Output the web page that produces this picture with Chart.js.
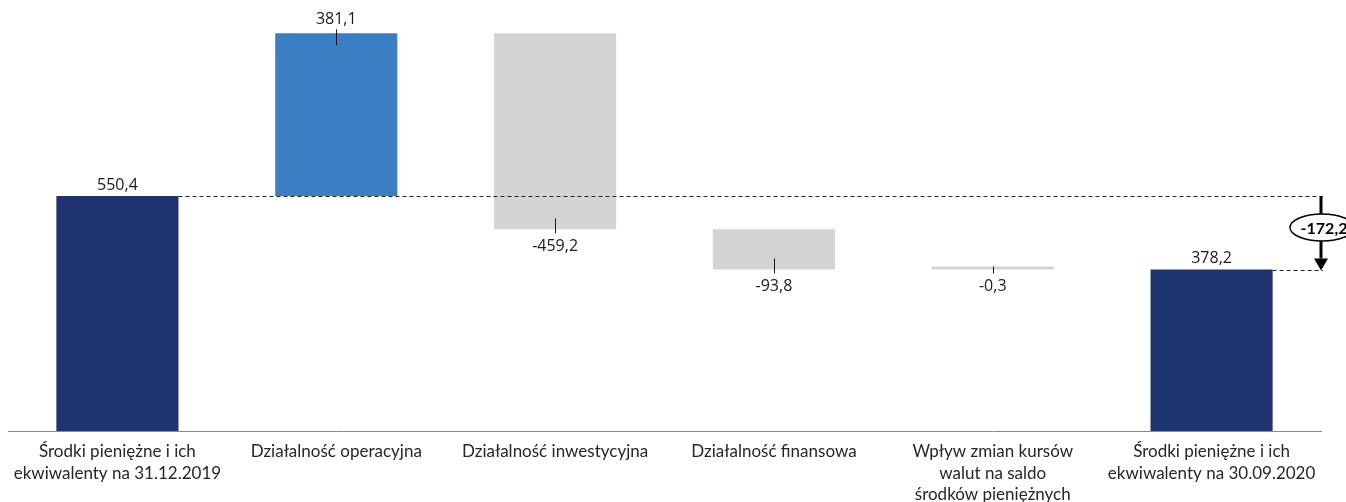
<!DOCTYPE html>
<html lang="pl">
<head>
<meta charset="utf-8">
<title>Przepływy pieniężne</title>
<script src="https://cdn.jsdelivr.net/npm/chart.js@4.4.1/dist/chart.umd.min.js"></script>
<style>
  html, body { margin: 0; padding: 0; background: #ffffff; }
  #wrap { position: relative; width: 1346px; height: 502px; }
</style>
</head>
<body>
<div id="wrap"><canvas id="chart" width="1346" height="502"></canvas></div>
<script>
// Category labels (multi-line)
const categories = [
  ['Środki pieniężne i ich', 'ekwiwalenty na 31.12.2019'],
  ['Działalność operacyjna'],
  ['Działalność inwestycyjna'],
  ['Działalność finansowa'],
  ['Wpływ zmian kursów', 'walut na saldo', 'środków pieniężnych'],
  ['Środki pieniężne i ich', 'ekwiwalenty na 30.09.2020']
];
// Values in mln zł
const values = [550.4, 381.1, -459.2, -93.8, -0.3, 378.2];
// 'total' bars start at zero, 'change' bars float on the running balance
const barKinds = ['total', 'change', 'change', 'change', 'change', 'total'];

const COLOR_TOTAL = '#1f3370';
const COLOR_UP = '#3a7ec3';
const COLOR_DOWN = '#d4d4d4';
const AXIS_FONT = 'Lato, "Open Sans", "Noto Sans", sans-serif';
const VALUE_FONT = '"Open Sans", "Noto Sans", sans-serif';

// Build floating ranges for the waterfall
let running = 0;
const ranges = values.map((v, i) => {
  if (barKinds[i] === 'total') { running = v; return [0, v]; }
  const start = running;
  running = Math.round((running + v) * 10) / 10;
  return [start, running];
});
const colors = values.map((v, i) =>
  barKinds[i] === 'total' ? COLOR_TOTAL : (v >= 0 ? COLOR_UP : COLOR_DOWN));
const fmt = v => v.toFixed(1).replace('.', ',');

const waterfallDecor = {
  id: 'waterfallDecor',
  afterDatasetsDraw(chart) {
    const ctx = chart.ctx;
    const area = chart.chartArea;
    const meta = chart.getDatasetMeta(0);
    ctx.save();

    // value labels and leader ticks
    meta.data.forEach((bar, i) => {
      const top = Math.min(bar.y, bar.base);
      const bottom = Math.max(bar.y, bar.base);
      const v = values[i];
      ctx.strokeStyle = '#1a1a1a';
      ctx.lineWidth = 1;
      ctx.fillStyle = '#1a1a1a';
      ctx.font = '16px ' + VALUE_FONT;
      ctx.textAlign = 'center';
      ctx.textBaseline = 'middle';
      const x = Math.round(bar.x) + 0.5;
      if (barKinds[i] === 'total') {
        ctx.fillText(fmt(v), bar.x, top - 11);
      } else if (v >= 0) {
        ctx.beginPath();
        ctx.moveTo(x, top - 4);
        ctx.lineTo(x, top + 12);
        ctx.stroke();
        ctx.fillText(fmt(v), bar.x, top - 14);
      } else {
        ctx.beginPath();
        ctx.moveTo(x, Math.max(top, bottom - 11));
        ctx.lineTo(x, bottom + 4);
        ctx.stroke();
        ctx.fillText(fmt(v), bar.x, bottom + 17);
      }
    });

    // dashed reference lines from the opening and closing balances
    const first = meta.data[0];
    const last = meta.data[meta.data.length - 1];
    const yStart = Math.round(first.y) + 0.5;
    const yEnd = Math.round(last.y) + 0.5;
    const xEnd = area.right + 2;
    ctx.strokeStyle = '#222';
    ctx.lineWidth = 1;
    ctx.setLineDash([4, 3]);
    ctx.beginPath();
    ctx.moveTo(first.x + first.width / 2, yStart);
    ctx.lineTo(xEnd, yStart);
    ctx.moveTo(last.x + last.width / 2, yEnd);
    ctx.lineTo(xEnd, yEnd);
    ctx.stroke();
    ctx.setLineDash([]);

    // arrow showing the net change
    const ax = area.right;
    const head = 12;
    ctx.strokeStyle = '#000';
    ctx.fillStyle = '#000';
    ctx.lineWidth = 3;
    ctx.beginPath();
    ctx.moveTo(ax, yStart);
    ctx.lineTo(ax, yEnd - head);
    ctx.stroke();
    ctx.beginPath();
    ctx.moveTo(ax - 7, yEnd - head);
    ctx.lineTo(ax + 7, yEnd - head);
    ctx.lineTo(ax, yEnd);
    ctx.closePath();
    ctx.fill();

    const net = values[values.length - 1] - values[0];
    const cy = (yStart + yEnd - head) / 2;
    ctx.beginPath();
    ctx.ellipse(ax + 1, cy, 32, 13.5, 0, 0, Math.PI * 2);
    ctx.fillStyle = '#fff';
    ctx.fill();
    ctx.lineWidth = 1.5;
    ctx.stroke();
    ctx.fillStyle = '#000';
    ctx.font = 'bold 16px ' + AXIS_FONT;
    ctx.textAlign = 'center';
    ctx.textBaseline = 'middle';
    ctx.fillText(fmt(Math.round(net * 10) / 10), ax + 3, cy + 1);

    ctx.restore();
  }
};

new Chart(document.getElementById('chart'), {
  type: 'bar',
  data: {
    labels: categories,
    datasets: [{
      data: ranges,
      backgroundColor: colors,
      borderWidth: 0,
      categoryPercentage: 1,
      barPercentage: 0.558,
      minBarLength: 3
    }]
  },
  options: {
    responsive: false,
    animation: false,
    layout: { padding: { left: 8, right: 25, top: 4, bottom: 0 } },
    plugins: { legend: { display: false }, tooltip: { enabled: false } },
    scales: {
      x: {
        grid: { display: false, drawTicks: false },
        border: { display: true, color: '#8a8a8a', width: 1 },
        ticks: {
          color: '#262626',
          font: { family: AXIS_FONT, size: 17, lineHeight: 1.27 },
          padding: 10,
          maxRotation: 0,
          autoSkip: false
        },
        afterFit(scale) { scale.height = 71; }
      },
      y: {
        display: false,
        min: 0,
        max: 1000
      }
    }
  },
  plugins: [waterfallDecor]
});
</script>
</body>
</html>
